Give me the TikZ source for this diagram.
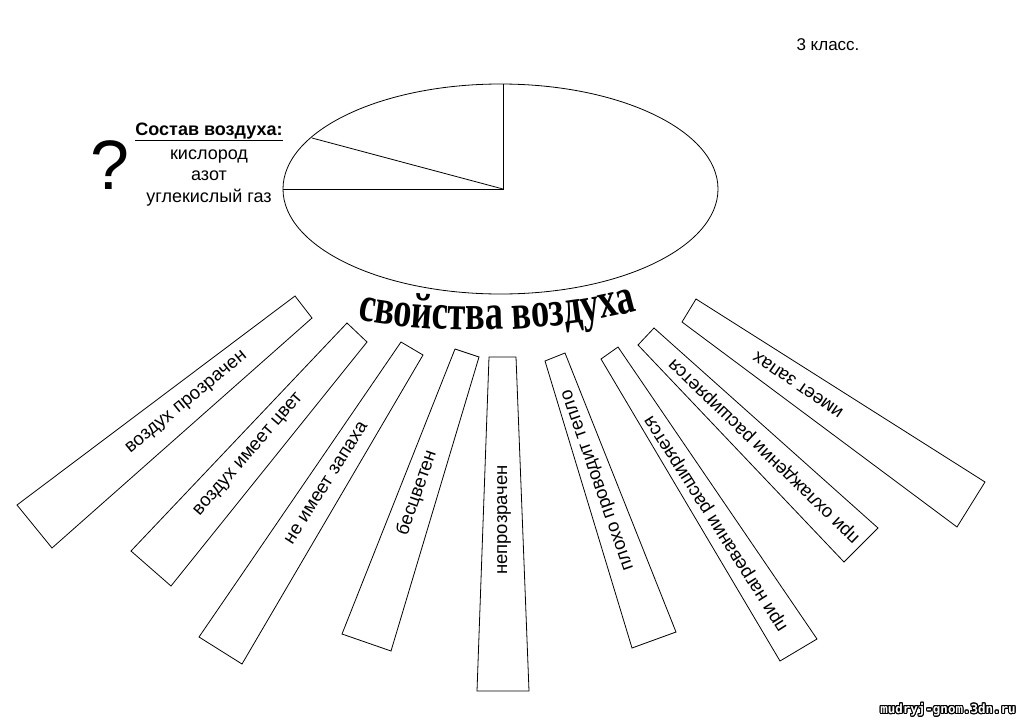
\documentclass[tikz,border=0pt]{standalone}
\usepackage{fontspec}
\setmainfont{Liberation Sans}
\newfontfamily\titlefont[FakeStretch=0.73]{Liberation Serif}
\newfontfamily\wmfont{DejaVu Sans Mono}
\usepackage{contour}
\contourlength{1pt}
\usetikzlibrary{decorations.text}

\tikzset{
  ray/.style={draw, line width=0.8pt},
  raytext/.style={inner sep=0pt, font=\fontsize{18.5}{20}\selectfont},
  listtext/.style={anchor=base, inner sep=0pt, font=\fontsize{18}{20}\selectfont}
}

\begin{document}
\begin{tikzpicture}[x=1pt, y=-1pt] % pixel grid, y downwards
\useasboundingbox (0,0) rectangle (1024,720); % page frame
% class label
\node[listtext, font=\fontsize{17}{20}\selectfont] (klass) at (828,50) {3 класс.};
% the pie: air composition
\draw[line width=0.8pt] (500.5,189) ellipse [x radius=217.5pt, y radius=105pt]; % whole air
\coordinate (pie) at (503,189); % centre of the slices
\draw[line width=0.8pt] (503,84) -- (pie) -- (283,189); % nitrogen slice
\draw[line width=0.8pt] (pie) -- (312,138); % oxygen slice
% question mark and legend
\node[inner sep=0pt, font=\fontsize{70}{70}\selectfont] (ask) at (110,165) {?};
\node[listtext, font=\bfseries\fontsize{18}{20}\selectfont] (sostav) at (209,135) {\underline{Состав воздуха:}};
\node[listtext] (kislorod) at (209,159) {кислород}; % first gas
\node[listtext] (azot) at (209,180) {азот}; % second gas
\node[listtext] (co2) at (209,202) {углекислый газ}; % third gas
% arched title
\path[decorate, decoration={text along path, text align=center,
  text={|\titlefont\bfseries\fontsize{50}{50}\selectfont|свойства воздуха}}]
  (352,318) .. controls (430,336) and (560,334) .. (642,309);
% rays, left to right
\draw[ray] (295,296) -- (312,318) -- (52,548) -- (17,505) -- cycle; % ray 1
\node[raytext, rotate=39.3] (prozrachen) at (187,403) {воздух прозрачен};
\draw[ray] (347,323) -- (367,342) -- (171,586) -- (131,551) -- cycle; % ray 2
\node[raytext, rotate=48.9] (cvet) at (249,455) {воздух имеет цвет};
\draw[ray] (401,342) -- (423,355) -- (242,664) -- (199,637) -- cycle; % ray 3
\node[raytext, rotate=57.6] (nezapah) at (326,483) {не имеет запаха};
\draw[ray] (455,349) -- (479,357) -- (391,651) -- (342,634) -- cycle; % ray 4
\node[raytext, rotate=70.7] (bescveten) at (417,493) {бесцветен};
\draw[ray] (489,357) -- (516,357) -- (529,691) -- (477,691) -- cycle; % ray 5
\node[raytext, rotate=90] (neprozrachen) at (504,520) {непрозрачен};
\draw[ray] (545,361) -- (565,353) -- (676,632) -- (632,648) -- cycle; % ray 6
\node[raytext, rotate=109.3] (teplo) at (599,480) {плохо проводит тепло};
\draw[ray] (601,359) -- (618,347) -- (817,639) -- (780,661) -- cycle; % ray 7
\node[raytext, rotate=122.5] (nagrev) at (717,523) {при нагревании расширяется};
\draw[ray] (638,345) -- (654,328) -- (878,528) -- (844,562) -- cycle; % ray 8
\node[raytext, rotate=136] (ohlazhd) at (765,450) {при охлаждении расширяется};
\draw[ray] (682,322) -- (696,299) -- (985,482) -- (957,527) -- cycle; % ray 9
\node[raytext, rotate=145.5] (zapah) at (798,385) {имеет запах};
% site mark
\node[inner sep=0pt, font=\wmfont\bfseries\fontsize{12.5}{14}\selectfont] (site) at (948,710)
  {{\color{white}\contour{black}{mudryj-gnom.3dn.ru}}};
\end{tikzpicture}
\end{document}
